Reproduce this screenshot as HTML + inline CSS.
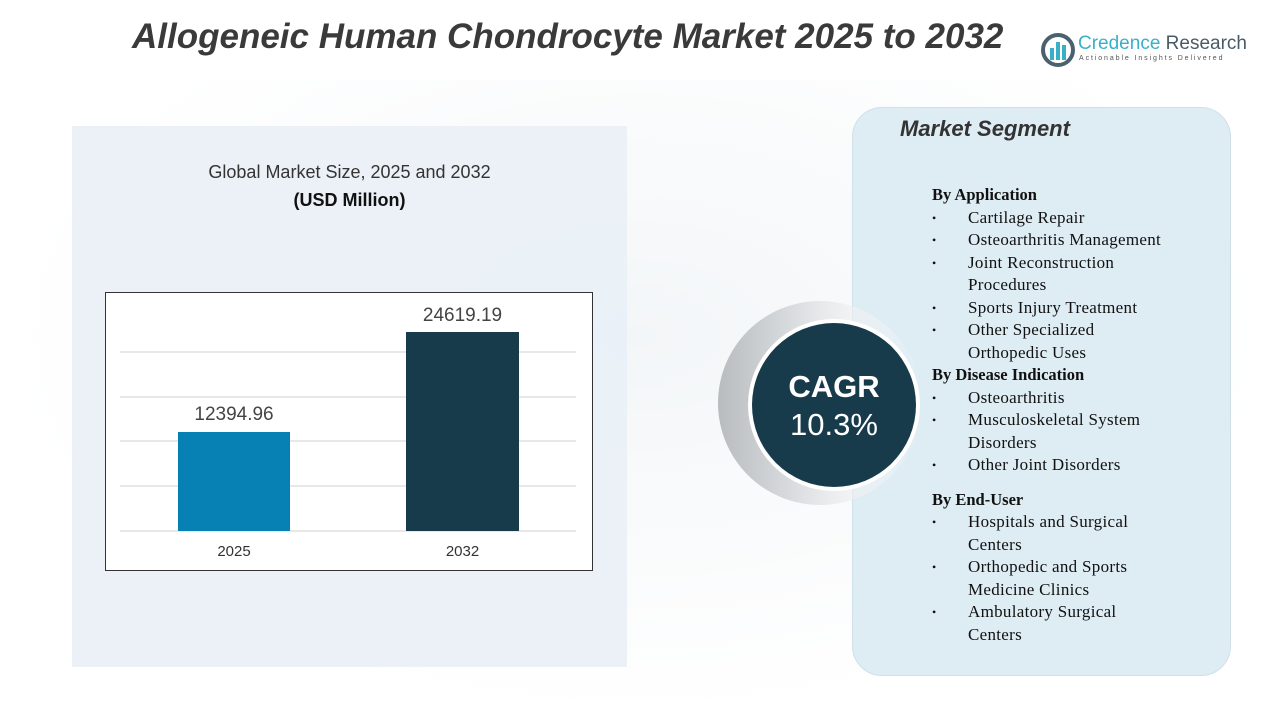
<!DOCTYPE html>
<html><head><meta charset="utf-8"><style>
body{margin:0;width:1280px;height:720px;position:relative;background:#fff;overflow:hidden;font-family:"Liberation Sans",sans-serif}
.a{position:absolute}
.seg{font-family:"Liberation Serif",serif;font-size:17px;letter-spacing:.3px;color:#111;line-height:22.5px}
.seg b{display:block;letter-spacing:0;font-size:16.5px}
.li{position:relative;padding-left:36px}
.li:before{content:"•";position:absolute;left:0;font-size:12px}
</style></head><body>
<div class="a" style="left:0;top:80px;width:1280px;height:640px;background:radial-gradient(ellipse at 50% 40%,#f3f6f8,#fff 70%)"></div>
<div class="a" style="left:132px;top:17px;font-size:35px;font-weight:bold;font-style:italic;color:#3a3a3a">Allogeneic Human Chondrocyte Market 2025 to 2032</div>
<svg class="a" style="left:1040px;top:32px" width="36" height="36"><circle cx="18" cy="18" r="15" fill="none" stroke="#4a6170" stroke-width="4"/><rect x="10" y="16" width="4" height="12" fill="#3ab0c8"/><rect x="16" y="10" width="4" height="18" fill="#3ab0c8"/><rect x="22" y="13" width="4" height="15" fill="#3ab0c8"/></svg>
<div class="a" style="left:1078px;top:33px;font-size:19px;color:#3ab0c8">Credence <span style="color:#4a5a66">Research</span></div>
<div class="a" style="left:1079px;top:55px;font-size:7px;letter-spacing:1.9px;color:#555">Actionable Insights Delivered</div>
<div class="a" style="left:72px;top:126px;width:555px;height:541px;background:#e9f0f6;opacity:.9"></div>
<div class="a" style="left:72px;top:162px;width:555px;text-align:center;font-size:18px;color:#333">Global Market Size, 2025 and 2032</div>
<div class="a" style="left:72px;top:190px;width:555px;text-align:center;font-size:18px;font-weight:bold;color:#111">(USD Million)</div>
<div class="a" style="left:105px;top:292px;width:486px;height:277px;border:1px solid #333;background:#fff"></div>
<svg class="a" style="left:0;top:0" width="1280" height="720">
<g stroke="#d0d0d0" stroke-width="1"><line x1="120" x2="576" y1="352" y2="352"/><line x1="120" x2="576" y1="397" y2="397"/><line x1="120" x2="576" y1="441" y2="441"/><line x1="120" x2="576" y1="486" y2="486"/><line x1="120" x2="576" y1="531" y2="531"/></g>
<rect x="178" y="432" width="112" height="99" fill="#0780b3"/>
<rect x="406" y="332" width="113" height="199" fill="#173b4b"/>
</svg>
<div class="a" style="left:178px;top:404px;width:112px;text-align:center;font-size:19px;color:#444">12394.96</div>
<div class="a" style="left:390px;top:305px;width:145px;text-align:center;font-size:19px;color:#444">24619.19</div>
<div class="a" style="left:178px;top:543px;width:112px;text-align:center;font-size:15px;color:#333">2025</div>
<div class="a" style="left:406px;top:543px;width:113px;text-align:center;font-size:15px;color:#333">2032</div>
<div class="a" style="left:852px;top:107px;width:377px;height:567px;border-radius:30px;background:#deecf4;border:1px solid #cfe0ea"></div>
<svg class="a" style="left:0;top:0" width="1280" height="720">
<defs><linearGradient id="g" x1="0" x2="1" y1="0" y2="0"><stop offset="0" stop-color="#b8bcbf"/><stop offset="0.5" stop-color="#e6e8ea"/><stop offset="1" stop-color="#fff" stop-opacity="0"/></linearGradient></defs>
<circle cx="820" cy="403" r="102" fill="url(#g)"/>
<circle cx="834" cy="405" r="86" fill="#fff"/>
<circle cx="834" cy="405" r="82" fill="#173b4b"/>
</svg>
<div class="a" style="left:752px;top:368px;width:164px;text-align:center;color:#fff;font-size:31px;font-weight:bold;line-height:38px">CAGR<br><span style="font-weight:normal">10.3%</span></div>
<div class="a" style="left:900px;top:116px;font-size:22px;font-weight:bold;font-style:italic;color:#333">Market Segment</div>
<div class="a seg" style="left:932px;top:184px;width:240px">
<b>By Application</b>
<div class="li">Cartilage Repair</div>
<div class="li">Osteoarthritis Management</div>
<div class="li">Joint Reconstruction Procedures</div>
<div class="li">Sports Injury Treatment</div>
<div class="li">Other Specialized Orthopedic Uses</div>
<b>By Disease Indication</b>
<div class="li">Osteoarthritis</div>
<div class="li">Musculoskeletal System Disorders</div>
<div class="li">Other Joint Disorders</div>
<b style="margin-top:12px">By End-User</b>
<div class="li">Hospitals and Surgical Centers</div>
<div class="li">Orthopedic and Sports Medicine Clinics</div>
<div class="li">Ambulatory Surgical Centers</div>
</div>
</body></html>
